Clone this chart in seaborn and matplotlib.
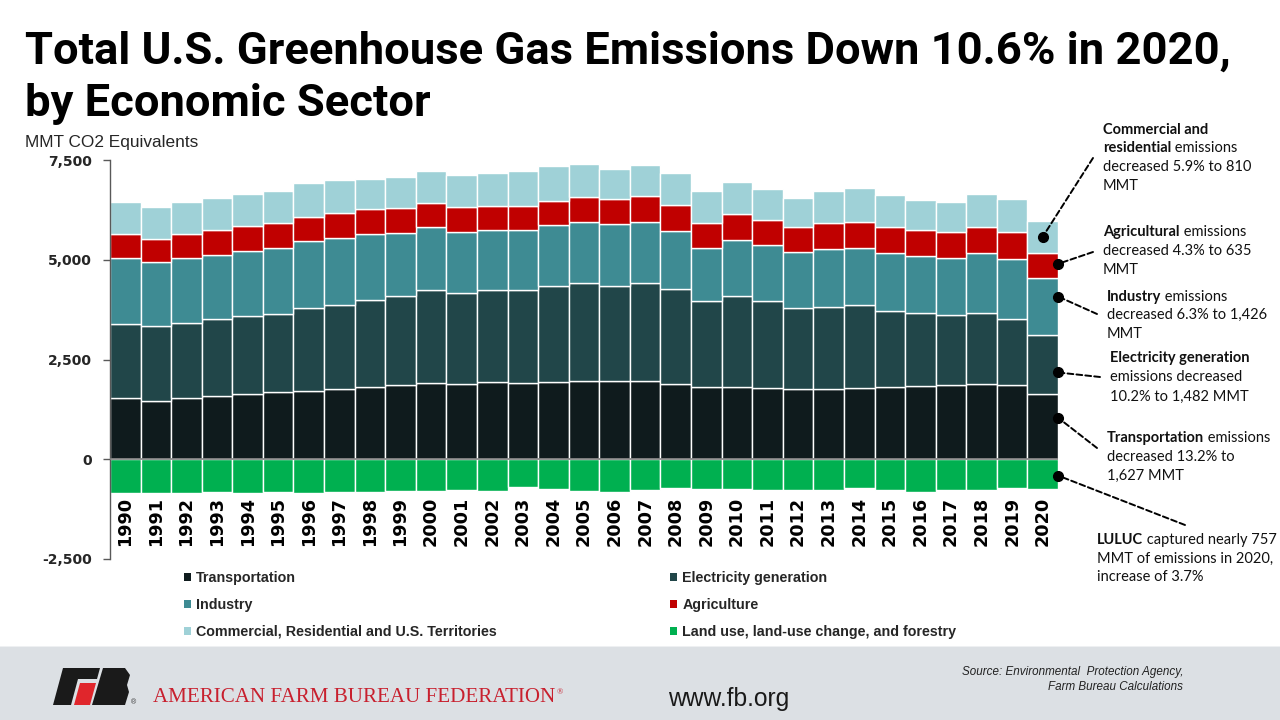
import numpy as np
import pandas as pd
import seaborn as sns
import matplotlib.pyplot as plt
from matplotlib import font_manager
from matplotlib.patches import Patch, Rectangle, Polygon

# Data (MMT CO2 equivalents)
years = list(range(1990, 2021))
transportation = [1525, 1467, 1525, 1575, 1625, 1675, 1717, 1750, 1800, 1850, 1900, 1875, 1925, 1900, 1942, 1967,
                  1967, 1967, 1875, 1800, 1800, 1775, 1750, 1750, 1775, 1800, 1825, 1850, 1875, 1867, 1627]
electricity = [1875, 1875, 1900, 1950, 1967, 1975, 2075, 2125, 2192, 2242, 2342, 2292, 2317, 2342, 2400, 2450,
               2375, 2450, 2392, 2167, 2292, 2192, 2042, 2067, 2092, 1917, 1842, 1767, 1792, 1650, 1482]
industry = [1650, 1600, 1625, 1592, 1625, 1650, 1675, 1675, 1650, 1575, 1575, 1525, 1500, 1500, 1525, 1525,
            1550, 1525, 1450, 1325, 1400, 1400, 1400, 1450, 1425, 1450, 1425, 1425, 1500, 1500, 1426]
agriculture = [600, 583, 592, 625, 625, 617, 600, 617, 625, 625, 600, 625, 616, 616, 616, 625,
               625, 650, 650, 625, 650, 625, 625, 650, 650, 650, 650, 650, 650, 675, 635]
commercial = [792, 808, 816, 816, 816, 816, 866, 841, 766, 791, 816, 816, 825, 875, 875, 841,
              766, 791, 816, 816, 816, 791, 741, 816, 866, 816, 766, 766, 841, 841, 810]
luluc = [-850, -850, -850, -825, -850, -825, -850, -825, -825, -792, -792, -767, -792, -700, -742, -792,
         -817, -767, -717, -742, -742, -783, -767, -767, -717, -767, -817, -767, -767, -717, -757]

sector_names = ['Transportation', 'Electricity generation', 'Industry', 'Agriculture',
                'Commercial, Residential and U.S. Territories']
luluc_name = 'Land use, land-use change, and forestry'
yticks = [-2500, 0, 2500, 5000, 7500]

colors = {'Transportation': '#0f1b1d', 'Electricity generation': '#214649', 'Industry': '#3e8b93',
          'Agriculture': '#c00000', 'Commercial, Residential and U.S. Territories': '#9fd1d7',
          luluc_name: '#00b050'}

# Long table for the stacked histplot
pos = pd.concat([pd.DataFrame({'year': years, 'sector': name, 'value': vals})
                 for name, vals in zip(sector_names, [transportation, electricity, industry, agriculture, commercial])])
neg = pd.DataFrame({'year': years, 'value': luluc})

sns.set_theme(style='white')
plt.rcParams['font.family'] = ['Liberation Sans', 'DejaVu Sans']

W, H = 1280, 720
fig = plt.figure(figsize=(12.8, 7.2), dpi=100)
renderer = fig.canvas.get_renderer()


def fx(px):
    return px / W


def fy(py):
    return 1 - py / H


def fit(t, width_px):
    w = t.get_window_extent(renderer).width
    t.set_fontsize(t.get_fontsize() * width_px / w)
    return t


def pick_font(names):
    have = {f.name for f in font_manager.fontManager.ttflist}
    for n in names:
        if n in have:
            return n
    return 'DejaVu Sans'


ax = fig.add_axes([fx(110), fy(559), 948 / W, 399 / H])

# stacked positive sectors (seaborn stacks the last hue level at the bottom)
sns.histplot(data=pos, x='year', weights='value', hue='sector', hue_order=sector_names[::-1],
             palette=colors, multiple='stack', discrete=True, shrink=1, alpha=1,
             edgecolor='white', linewidth=1, legend=False, ax=ax)
sns.histplot(data=neg, x='year', weights='value', discrete=True, shrink=1, alpha=1,
             color=colors[luluc_name], edgecolor='white', linewidth=1, ax=ax)

ax.set_xlim(1989.5, 2020.5)
ax.set_ylim(-2500, 7500)
ax.set_xlabel('')
ax.set_ylabel('')
ax.axhline(0, color='#808080', lw=1.2, zorder=3)
for s in ['top', 'right', 'bottom']:
    ax.spines[s].set_visible(False)
ax.spines['left'].set_color('#595959')
ax.spines['left'].set_linewidth(1)
ax.set_xticks([])
ax.set_yticks(yticks)
ax.set_yticklabels([f'{v:,}' for v in yticks])
ax.tick_params(axis='y', left=True, length=5, width=1, color='#595959', pad=8)
for lbl in ax.get_yticklabels():
    lbl.set_fontfamily('DejaVu Sans')
    lbl.set_fontweight('bold')
    lbl.set_fontsize(10)

for yr in years:
    ax.text(yr, -940, str(yr), rotation=90, ha='center', va='top', fontsize=12.7,
            fontweight='bold', family='DejaVu Sans', color='black')

# title and unit label
title_font = pick_font(['Roboto', 'Liberation Sans'])
t1 = fig.text(fx(25), fy(64), 'Total U.S. Greenhouse Gas Emissions Down 10.6% in 2020,',
              family=title_font, fontweight='bold', fontsize=30, va='baseline', color='black')
fit(t1, 1204)
fig.text(fx(25), fy(116), 'by Economic Sector', family=title_font, fontweight='bold',
         fontsize=t1.get_fontsize(), va='baseline', color='black')
unit = fig.text(fx(25), fy(142.5), 'MMT CO2 Equivalents', fontsize=12, va='center', color='#262626')
fit(unit, 174)

# legend
order = ['Transportation', 'Industry', 'Commercial, Residential and U.S. Territories',
         'Electricity generation', 'Agriculture', luluc_name]
handles = [Patch(facecolor=colors[n], edgecolor='none') for n in order]
fig.legend(handles, order, ncol=2, loc='upper left', bbox_to_anchor=(fx(184), fy(571)),
           frameon=False, prop={'family': 'Liberation Sans', 'weight': 'bold', 'size': 10.3},
           handlelength=0.5, handleheight=0.5, handletextpad=0.35, columnspacing=12.1,
           labelspacing=0.9, borderpad=0, borderaxespad=0)

# annotations on the 2020 bar
ann_font = pick_font(['Lato', 'Open Sans', 'Liberation Sans'])
probe = fig.text(0, 0, 'decreased 6.3% to 1,426', family=ann_font, fontsize=10)
fit(probe, 160)
ann_size = probe.get_fontsize()
probe.remove()


def rich_line(x_px, y_px, bold, rest):
    x, y = fx(x_px), fy(y_px)
    if bold:
        t = fig.text(x, y, bold, family=ann_font, fontweight='bold', fontsize=ann_size,
                     va='center', color='#111111')
        x = t.get_window_extent(renderer).x1 / W
        rest = ' ' + rest if rest else rest
    if rest:
        fig.text(x, y, rest, family=ann_font, fontsize=ann_size, va='center', color='#111111')


i20 = len(years) - 1
segs = [transportation[i20], electricity[i20], industry[i20], agriculture[i20], commercial[i20]]
bottoms = np.concatenate([[0], np.cumsum(segs)[:-1]])

notes = [
    # (segment index, fraction within segment, dot x, line end px, text x, text line ys, text lines)
    (4, 0.50, 2020.0, (1093, 158), 1103, [130, 148.5, 167, 185.5],
     [('Commercial and', ''), ('residential', 'emissions'), ('', 'decreased 5.9% to 810'), ('', 'MMT')]),
    (3, 0.57, 2020.5, (1093, 252), 1103, [232, 251, 269.5],
     [('Agricultural', 'emissions'), ('', 'decreased 4.3% to 635'), ('', 'MMT')]),
    (2, 0.68, 2020.5, (1097, 314), 1107, [297, 315, 333.5],
     [('Industry', 'emissions'), ('', 'decreased 6.3% to 1,426'), ('', 'MMT')]),
    (1, 0.37, 2020.5, (1100, 377), 1110, [358, 377, 396.5],
     [('Electricity generation', ''), ('', 'emissions decreased'), ('', '10.2% to 1,482 MMT')]),
    (0, 0.64, 2020.5, (1097, 448), 1107, [438, 457, 476],
     [('Transportation', 'emissions'), ('', 'decreased 13.2% to'), ('', '1,627 MMT')]),
    (-1, 0.54, 2020.5, (1185, 525), 1097, [540, 558.5, 577],
     [('LULUC', 'captured nearly 757'), ('', 'MMT of emissions in 2020,'), ('', 'increase of 3.7%')]),
]
for k, frac, dx, end, tx, tys, lines in notes:
    if k >= 0:
        dy = bottoms[k] + frac * segs[k]
    else:
        dy = frac * luluc[i20]
    ax.annotate('', xy=(dx, dy), xycoords='data', xytext=(end[0], H - end[1]), textcoords='figure pixels',
                arrowprops=dict(arrowstyle='-', color='black', lw=1.4, linestyle=(0, (3, 1.6)),
                                shrinkA=0, shrinkB=0), annotation_clip=False)
    ax.plot([dx], [dy], 'o', color='black', markersize=7, clip_on=False, zorder=5)
    for ty, (b, r) in zip(tys, lines):
        rich_line(tx, ty, b, r)

# footer band
fig.patches.append(Rectangle((0, 0), 1, fy(646), transform=fig.transFigure, facecolor='#dce0e4',
                             edgecolor='none', zorder=0))
fig.patches.append(Rectangle((0, fy(647)), 1, 1 / H, transform=fig.transFigure, facecolor='#eef0f2',
                             edgecolor='none', zorder=0))


def poly(points, color):
    fig.patches.append(Polygon([(fx(px), fy(py)) for px, py in points], closed=True,
                               transform=fig.transFigure, facecolor=color, edgecolor='none', zorder=1))


poly([(63, 668), (100, 668), (97, 679), (78, 679), (71, 705), (53, 705)], '#1a1a1a')
poly([(80, 683), (96, 683), (90, 705), (74, 705)], '#e0262c')
poly([(103, 668), (125, 668), (130, 675), (127, 685), (129, 692), (125, 705), (92, 705)], '#1a1a1a')
fig.text(fx(131), fy(703), '®', fontsize=5, va='center', color='#333333')

afbf = fig.text(fx(153), fy(698), 'AMERICAN FARM BUREAU FEDERATION', family='Liberation Serif',
                fontsize=12, va='center', color='#c8202e')
fit(afbf, 398)
fig.text(afbf.get_window_extent(renderer).x1 / W + 0.001, fy(692), '®', family='Liberation Serif',
         fontsize=6, va='center', color='#c8202e')

web = fig.text(fx(668), fy(699), 'www.fb.org', fontsize=15, va='center', color='#1a1a1a')
fit(web, 122)

src_kw = dict(fontsize=8.4, style='italic', ha='right', va='center', color='#222222')
fig.text(fx(1183), fy(672), 'Source: Environmental  Protection Agency,', **src_kw)
fig.text(fx(1183), fy(687), 'Farm Bureau Calculations', **src_kw)

fig.savefig('out.png', dpi=100)
